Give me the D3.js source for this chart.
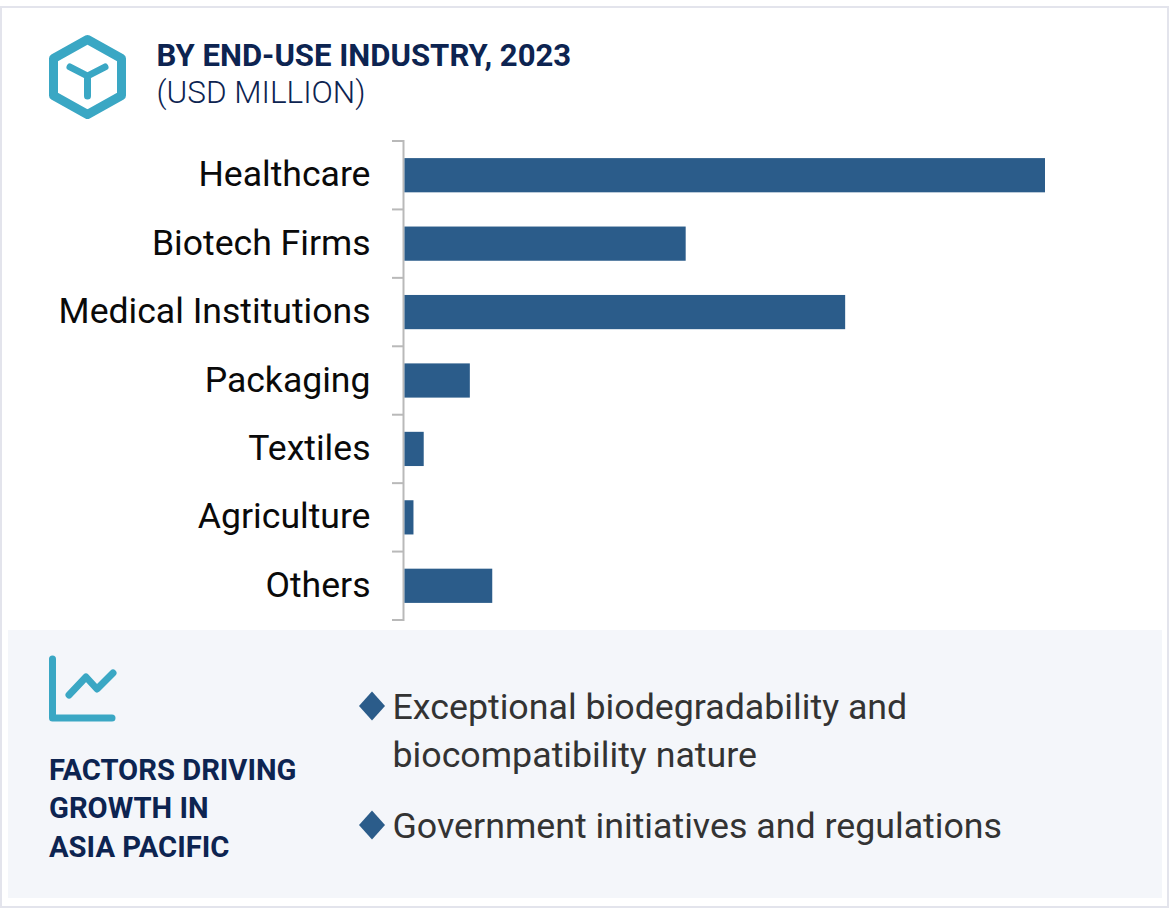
<!DOCTYPE html>
<html>
<head>
<meta charset="utf-8">
<script src="https://cdn.jsdelivr.net/npm/d3@7"></script>
<style>
  html, body { margin: 0; padding: 0; background: #fff; overflow: hidden; }
  svg { display: block; font-family: Roboto, sans-serif; }
</style>
</head>
<body>
<svg id="chart"></svg>
<script>
// values are relative, the picture has no value axis (Healthcare = 100)
var categories = ["Healthcare", "Biotech Firms", "Medical Institutions", "Packaging", "Textiles", "Agriculture", "Others"];
var values = [100, 43.9, 68.8, 10.2, 3, 1.4, 13.7];
var titleLines = ["BY END-USE INDUSTRY, 2023", "(USD MILLION)"];
var factorTitle = ["FACTORS DRIVING", "GROWTH IN", "ASIA PACIFIC"];
var factors = [["Exceptional biodegradability and", "biocompatibility nature"], ["Government initiatives and regulations"]];

var svgWidth = 1170, svgHeight = 909;
var navy = "#0d2451", teal = "#3aa7c4", barBlue = "#2b5c8a";

var svg = d3.select("#chart").attr("width", svgWidth).attr("height", svgHeight);

// card border
svg.append("rect").attr("x", 1).attr("y", 7).attr("width", 1167).attr("height", 900)
  .attr("fill", "#fff").attr("stroke", "#e3e4ec").attr("stroke-width", 2);

// header icon
var icon = svg.append("g").attr("transform", "translate(87.5,77)")
  .attr("fill", "none").attr("stroke", teal).attr("stroke-linecap", "round").attr("stroke-linejoin", "round");
icon.append("path").attr("stroke-width", 9)
  .attr("d", "M0,-37.5L34,-18.5L34,18.5L0,37.5L-34,18.5L-34,-18.5Z");
icon.append("path").attr("stroke-width", 7)
  .attr("d", "M-17.5,-10L0,-1L17.5,-10M0,-1L0,19");

// header text
svg.append("text").attr("x", 156.5).attr("y", 66).attr("fill", navy)
  .attr("font-size", 31.1).attr("font-weight", 700).text(titleLines[0]);
svg.append("text").attr("x", 156.5).attr("y", 102.5).attr("fill", navy)
  .attr("font-size", 31.5).attr("font-weight", 300).text(titleLines[1]);

// bars
var x = d3.scaleLinear().domain([0, 100]).range([404.5, 1045]);
var y = d3.scaleBand().domain(categories).range([141, 620]).paddingInner(0.5).paddingOuter(0.25);
var step = y.step();

var axis = svg.append("g").attr("stroke", "#b9b9b9").attr("stroke-width", 2).attr("fill", "none");
axis.append("path").attr("d", "M392,141H403.5V620H392");
axis.selectAll("line").data(categories.slice(1)).enter().append("line")
  .attr("x1", 392).attr("x2", 403)
  .attr("y1", function(d) { return y(d) - step / 4; })
  .attr("y2", function(d) { return y(d) - step / 4; });

svg.selectAll(".bar").data(values).enter().append("rect").attr("class", "bar")
  .attr("x", x(0))
  .attr("y", function(d, i) { return y(categories[i]); })
  .attr("width", function(d) { return x(d) - x(0); })
  .attr("height", y.bandwidth())
  .attr("fill", barBlue);

svg.selectAll(".cat").data(categories).enter().append("text").attr("class", "cat")
  .attr("x", 370.5)
  .attr("y", function(d) { return y(d) + y.bandwidth() / 2 + 11; })
  .attr("text-anchor", "end").attr("font-size", 35.6).attr("fill", "#0a0a0a")
  .text(function(d) { return d; });

// bottom panel
svg.append("rect").attr("x", 8).attr("y", 630).attr("width", 1154).attr("height", 268).attr("fill", "#f4f6fa");

var chartIcon = svg.append("g").attr("fill", "none").attr("stroke", teal)
  .attr("stroke-linecap", "round").attr("stroke-linejoin", "round");
chartIcon.append("path").attr("stroke-width", 7).attr("d", "M52.5,659V718H112");
chartIcon.append("path").attr("stroke-width", 7).attr("d", "M69,695L86,677L97,689L113,673");

svg.selectAll(".ftitle").data(factorTitle).enter().append("text").attr("class", "ftitle")
  .attr("x", 49)
  .attr("y", function(d, i) { return 779.5 + i * 38.5; })
  .attr("font-size", 29.2).attr("font-weight", 700).attr("fill", navy)
  .text(function(d) { return d; });

// bullets
var bulletY = [706, 825];
var lineH = 48;
factors.forEach(function(lines, i) {
  svg.append("path")
    .attr("transform", "translate(372," + bulletY[i] + ")")
    .attr("d", "M0,-14.5L13,0L0,14.5L-13,0Z")
    .attr("fill", barBlue);
  lines.forEach(function(t, j) {
    svg.append("text").attr("x", 392.5).attr("y", bulletY[i] + 12.5 + j * lineH)
      .attr("font-size", 35.75).attr("fill", "#333333").text(t);
  });
});
</script>
</body>
</html>
